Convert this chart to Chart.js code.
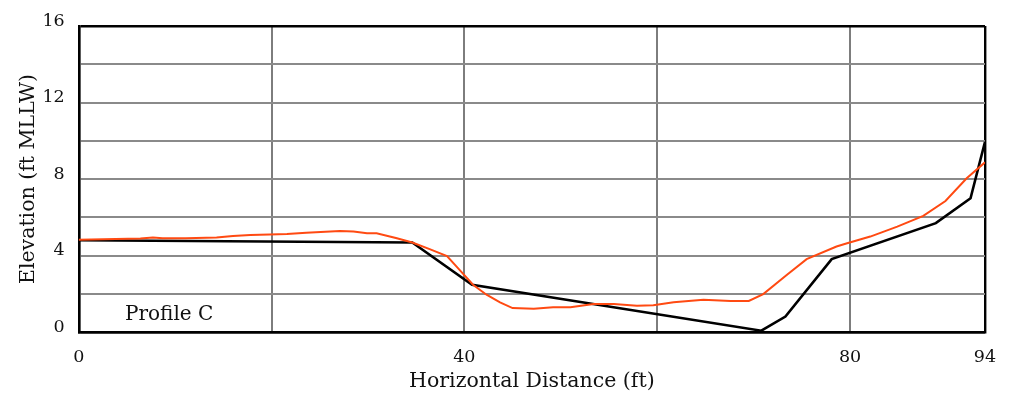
<!DOCTYPE html>
<html>
<head>
<meta charset="utf-8">
<script src="https://cdn.jsdelivr.net/npm/chart.js@4/dist/chart.umd.min.js"></script>
<style>
html,body{margin:0;padding:0;background:#fff;}
#wrap{width:1012px;height:402px;}
</style>
</head>
<body>
<div id="wrap"><canvas id="c" width="1012" height="402"></canvas></div>
<script>
// Measured profile (black)
const measuredX = [0, 34.6, 40.8, 70.8, 73.3, 78.1, 88.9, 92.5, 94];
const measuredY = [4.80, 4.68, 2.47, 0.07, 0.81, 3.81, 5.69, 6.99, 9.95];
// Comparison profile (red)
const compareX = [0, 6.4, 7.7, 8.7, 11.1, 14.3, 16.0, 17.8, 19.8, 21.6, 23.6, 27.1, 28.5, 29.9, 30.9, 33.0, 34.6, 36.4, 38.2, 39.5, 40.9, 42.3, 43.7, 45.0, 47.2, 49.2, 51.0, 53.4, 55.5, 57.9, 59.6, 61.7, 64.8, 67.6, 69.5, 71.0, 73.4, 75.5, 78.6, 79.7, 82.1, 84.9, 87.6, 89.9, 92.1, 94];
const compareY = [4.82, 4.89, 4.94, 4.90, 4.90, 4.94, 5.02, 5.07, 5.10, 5.12, 5.19, 5.28, 5.25, 5.16, 5.16, 4.90, 4.68, 4.33, 3.97, 3.25, 2.47, 1.95, 1.55, 1.25, 1.22, 1.30, 1.30, 1.46, 1.46, 1.37, 1.40, 1.55, 1.69, 1.62, 1.62, 1.98, 2.97, 3.81, 4.47, 4.64, 4.99, 5.51, 6.07, 6.85, 8.04, 8.87];
const xGridValues = [0, 20, 40, 60, 80, 94];
const xTickLabels = [0, 40, 80, 94];
const yTickLabels = [0, 4, 8, 12, 16];
const xTitle = 'Horizontal Distance (ft)';
const yTitle = 'Elevation (ft MLLW)';
const profileLabel = 'Profile C';
const profileLabelPos = [4.8, 0.9];

const FONT = "'DejaVu Serif', serif";
const pts = (xs, ys) => xs.map((x, i) => ({x: x, y: ys[i]}));

const labelPlugin = {
  id: 'profileLabel',
  afterDatasetsDraw(chart) {
    const ctx = chart.ctx;
    const xs = chart.scales.x, ys = chart.scales.y;
    ctx.save();
    ctx.font = "20px " + FONT;
    ctx.fillStyle = '#111';
    ctx.textAlign = 'left';
    ctx.textBaseline = 'middle';
    ctx.fillText(profileLabel, xs.getPixelForValue(profileLabelPos[0]), ys.getPixelForValue(profileLabelPos[1]));
    ctx.restore();
  }
};

new Chart(document.getElementById('c'), {
  type: 'scatter',
  data: {
    datasets: [
      {data: pts(compareX, compareY), showLine: true, borderColor: '#ff4a12', borderWidth: 2, pointRadius: 0, tension: 0, order: 0},
      {data: pts(measuredX, measuredY), showLine: true, borderColor: '#000', borderWidth: 2.6, pointRadius: 0, tension: 0, order: 1}
    ]
  },
  options: {
    responsive: false,
    animation: false,
    events: [],
    layout: {padding: {top: 26, right: 27, left: 0, bottom: 0}},
    plugins: {legend: {display: false}, tooltip: {enabled: false}},
    scales: {
      x: {
        type: 'linear', min: 0, max: 94,
        afterBuildTicks(s) { s.ticks = xGridValues.map(v => ({value: v})); },
        afterFit(s) { s.height = 70; },
        grid: {
          drawTicks: false,
          color: c => (c.tick && (c.tick.value === 0 || c.tick.value === 94)) ? '#000' : '#7d7d7d',
          lineWidth: c => (c.tick && (c.tick.value === 0 || c.tick.value === 94)) ? 2.4 : 2
        },
        border: {display: true, color: '#000', width: 2.4},
        ticks: {
          padding: 15, color: '#111', maxRotation: 0, autoSkip: false,
          font: {family: FONT, size: 17.5},
          callback: v => xTickLabels.includes(v) ? String(v) : ''
        },
        title: {display: true, text: xTitle, color: '#111', font: {family: FONT, size: 20.5}, padding: {top: 0, bottom: 8.5}}
      },
      y: {
        type: 'linear', min: 0, max: 16,
        afterBuildTicks(s) { const t = []; for (let v = 0; v <= 16; v += 2) t.push({value: v}); s.ticks = t; },
        afterFit(s) { s.width = 78.7; },
        grid: {
          drawTicks: false,
          color: c => (c.tick && (c.tick.value === 0 || c.tick.value === 16)) ? '#000' : '#8a8a8a',
          lineWidth: c => (c.tick && (c.tick.value === 0 || c.tick.value === 16)) ? 2.4 : 2
        },
        border: {display: true, color: '#000', width: 2.4},
        ticks: {
          padding: 14, color: '#111', labelOffset: -5,
          font: {family: FONT, size: 17.5},
          callback: v => yTickLabels.includes(v) ? String(v) : ''
        },
        title: {display: true, text: yTitle, color: '#111', font: {family: FONT, size: 20.5}, padding: {top: 16.5, bottom: 0}}
      }
    }
  },
  plugins: [labelPlugin]
});
</script>
</body>
</html>
